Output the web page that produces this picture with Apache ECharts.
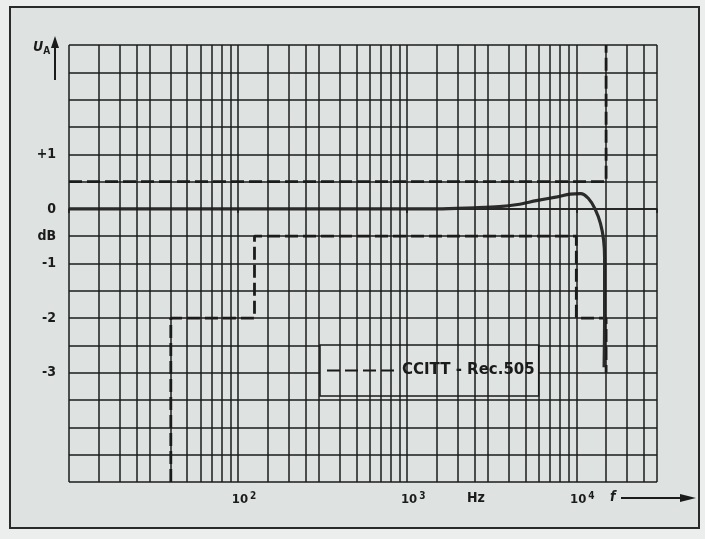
<!DOCTYPE html>
<html><head><meta charset="utf-8">
<script src="https://cdn.jsdelivr.net/npm/echarts@6/dist/echarts.min.js"></script>
<style>html,body{margin:0;padding:0;background:#eceeed}#c{width:705px;height:539px}</style>
</head><body><div id="c"></div>
<script>
// ---- data ----
const decades = [10, 100, 1000];
const gridMultipliers = [1, 1.5, 2, 2.5, 3, 4, 5, 6, 7, 8, 9];
const extraGridFreqs = [10000, 15000, 20000, 25000, 30000];
const yTickLabels = {'1': '+1', '0': '0', '-0.5': 'dB', '-1': '-1', '-2': '-2', '-3': '-3'};
const xTickLabels = {'100': '2', '1000': '3', '10000': '4'};
// measured response (Hz, dB)
const respFreq = [10, 500, 1500, 2500, 3500, 4500, 5800, 7700, 9200, 10600, 11800, 12900, 13900, 14500, 14700, 14700, 14600];
const respDb   = [0, 0, 0, 0.02, 0.04, 0.08, 0.15, 0.22, 0.27, 0.28, 0.19, 0.0, -0.27, -0.57, -0.9, -2.0, -2.9];
// CCITT Rec. 505 tolerance template
const upperFreq = [10, 15000, 15000];
const upperDb   = [0.5, 0.5, 3];
const lowerFreq = [40, 40, 125, 125, 10000, 10000, 15000, 15000];
const lowerDb   = [-5, -2, -2, -0.5, -0.5, -2, -2, -3];

const gridFreqs = [];
decades.forEach(d => gridMultipliers.forEach(m => gridFreqs.push(d * m)));
extraGridFreqs.forEach(f => gridFreqs.push(f));

const zip = (a, b) => a.map((v, i) => [v, b[i]]);
const FONT = "'DejaVu Sans Condensed','Liberation Sans Narrow','DejaVu Sans',sans-serif";
const FONTW = "'DejaVu Sans',sans-serif";
const INK = '#1b1b1b';
const LEG = 'CCITT - Rec.505';

const chart = echarts.init(document.getElementById('c'), null, {renderer: 'canvas'});
chart.setOption({
  animation: false,
  backgroundColor: '#eceeed',
  grid: {left: 69, right: 48, top: 45, bottom: 57},
  xAxis: {
    type: 'log', logBase: 10, min: 10, max: 30000,
    axisLine: {show: true, lineStyle: {color: INK, width: 1.5}},
    axisTick: {show: true, length: 4, lineStyle: {color: INK, width: 1.5}},
    splitLine: {show: false},
    minorTick: {show: false},
    axisLabel: {
      margin: 9,
      formatter: v => xTickLabels[String(v)] ? '{g|}{b|10}{s|' + xTickLabels[String(v)] + '}' : '',
      rich: {
        g: {width: 12},
        b: {fontFamily: FONT, fontWeight: 'bold', fontSize: 13, color: INK},
        s: {fontFamily: FONT, fontWeight: 'bold', fontSize: 10, color: INK, verticalAlign: 'top', padding: [0, 0, 8, 2]}
      }
    }
  },
  yAxis: {
    type: 'value', min: -5, max: 3, interval: 0.5,
    axisLine: {show: false},
    axisTick: {show: false},
    splitLine: {show: true, lineStyle: {color: INK, width: 1.5}},
    axisLabel: {
      margin: 13,
      fontFamily: FONT, fontWeight: 'bold', fontSize: 14, color: INK,
      formatter: v => yTickLabels[String(v)] || ''
    }
  },
  legend: {
    data: [LEG],
    left: 320, top: 345,
    padding: [18, 4, 18, 6],
    itemWidth: 70, itemHeight: 14, itemGap: 0,
    itemStyle: {opacity: 0},
    backgroundColor: '#dfe3e2',
    borderColor: INK, borderWidth: 1.5,
    textStyle: {fontFamily: FONTW, fontWeight: 'bold', fontSize: 15, color: INK},
    selectedMode: false
  },
  graphic: [
    {type: 'rect', z: -100, silent: true, shape: {x: 10, y: 7, width: 689, height: 521},
     style: {fill: '#dee2e1', stroke: '#2a2a2a', lineWidth: 2}},
    {type: 'text', left: 33, top: 40, silent: true,
     style: {text: '{u|U}{a|A}', rich: {
       u: {fontFamily: FONT, fontStyle: 'italic', fontWeight: 'bold', fontSize: 14, fill: INK},
       a: {fontFamily: FONT, fontWeight: 'bold', fontSize: 10, fill: INK, padding: [8, 0, 0, 0]}}}},
    {type: 'line', silent: true, shape: {x1: 55, y1: 80, x2: 55, y2: 44}, style: {stroke: INK, lineWidth: 2}},
    {type: 'polygon', silent: true, shape: {points: [[51, 48], [59, 48], [55, 36]]}, style: {fill: INK}},
    {type: 'text', left: 467, top: 491, silent: true,
     style: {text: 'Hz', fontFamily: FONT, fontWeight: 'bold', fontSize: 14, fill: INK}},
    {type: 'text', left: 610, top: 490, silent: true,
     style: {text: 'f', fontFamily: FONT, fontStyle: 'italic', fontWeight: 'bold', fontSize: 14, fill: INK}},
    {type: 'line', silent: true, shape: {x1: 621, y1: 498, x2: 682, y2: 498}, style: {stroke: INK, lineWidth: 1.8}},
    {type: 'polygon', silent: true, shape: {points: [[680, 494], [680, 502], [696, 498]]}, style: {fill: INK}}
  ],
  series: [
    {
      name: 'grid', type: 'line', data: [], silent: true, z: 1,
      markLine: {
        symbol: ['none', 'none'], silent: true, animation: false,
        label: {show: false},
        lineStyle: {color: INK, width: 1.5, type: 'solid'},
        emphasis: {disabled: true},
        data: gridFreqs.map(f => ({xAxis: f}))
      }
    },
    {
      name: LEG, type: 'line', data: zip(upperFreq, upperDb), showSymbol: false, symbol: 'none',
      color: INK, z: 3,
      lineStyle: {color: INK, width: 2.8, type: [13, 5]}
    },
    {
      name: LEG, type: 'line', data: zip(lowerFreq, lowerDb), showSymbol: false, symbol: 'none',
      color: INK, z: 3,
      lineStyle: {color: INK, width: 2.8, type: [13, 5]}
    },
    {
      name: 'response', type: 'line', data: zip(respFreq, respDb), showSymbol: false, symbol: 'none',
      smooth: 0.3, z: 4,
      lineStyle: {color: '#2b2b2b', width: 3.2}
    }
  ]
});
</script></body></html>
